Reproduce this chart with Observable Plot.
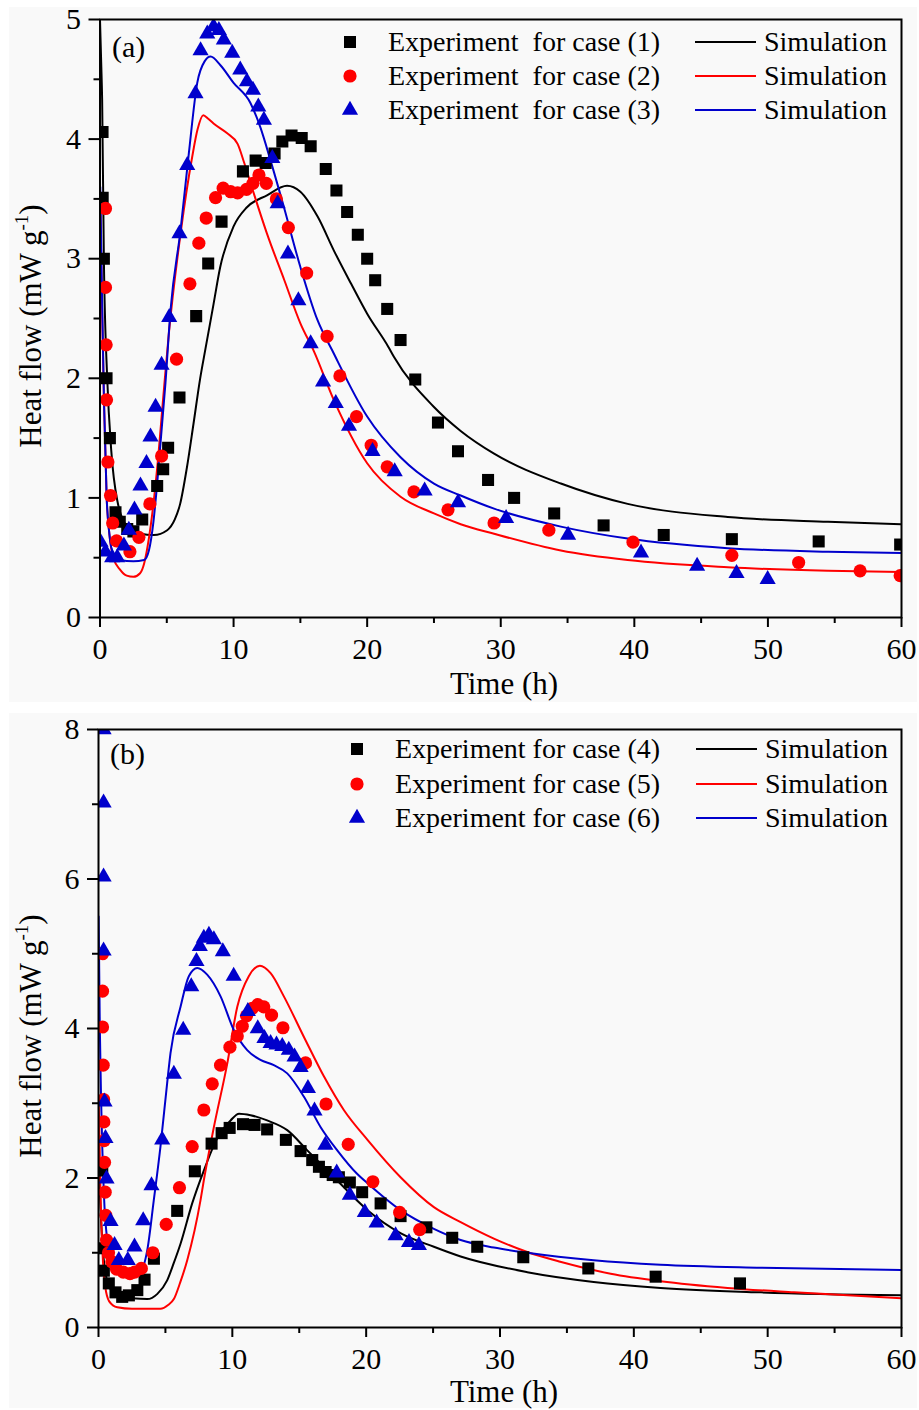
<!DOCTYPE html>
<html>
<head>
<meta charset="utf-8">
<script src="https://cdn.jsdelivr.net/npm/d3@7"></script>
<script src="https://cdn.jsdelivr.net/npm/@observablehq/plot@0.6"></script>
<style>
  html, body { margin: 0; padding: 0; background: #ffffff; }
  #wrap { position: relative; width: 919px; height: 1410px; overflow: hidden; }
  #wrap svg { position: absolute; }
</style>
</head>
<body>
<div id="wrap"></div>
<script>
// ---------- tick values ----------
const xTicks = [0, 10, 20, 30, 40, 50, 60];
const xMinor = [5, 15, 25, 35, 45, 55];
const yTicksA = [0, 1, 2, 3, 4, 5];
const yMinorA = [0.5, 1.5, 2.5, 3.5, 4.5];
const yTicksB = [0, 2, 4, 6, 8];
const yMinorB = [1, 3, 5, 7];

// ---------- labels ----------
const xTitle = "Time (h)";
const yTitleMain = "Heat flow (mW g";
const yTitleSup = "-1";
const legendA = ["Experiment  for case (1)", "Experiment  for case (2)", "Experiment  for case (3)"];
const legendB = ["Experiment for case (4)", "Experiment for case (5)", "Experiment for case (6)"];
const simLabel = "Simulation";

// ---------- panel (a) data: [time h, heat flow mW/g] ----------
const exp1 = [[0.19,4.06],[0.2,3.51],[0.29,3.0],[0.49,2.0],[0.74,1.5],[1.16,0.88],[1.48,0.80],[2.04,0.74],[2.5,0.72],[3.16,0.82],[4.28,1.10],[4.73,1.24],[5.1,1.42],[5.95,1.84],[7.2,2.52],[8.1,2.96],[9.1,3.31],[10.7,3.73],[11.65,3.82],[12.4,3.80],[13.07,3.88],[13.65,3.98],[14.34,4.03],[15.1,4.01],[15.77,3.94],[16.9,3.75],[17.7,3.57],[18.5,3.39],[19.3,3.2],[20.0,3.0],[20.6,2.82],[21.5,2.58],[22.5,2.32],[23.6,1.99],[25.3,1.63],[26.8,1.39],[29.05,1.15],[31.0,1.0],[34.0,0.87],[37.7,0.77],[42.2,0.69],[47.3,0.655],[53.8,0.636],[59.9,0.61]];
const exp2 = [[0.41,3.42],[0.41,2.76],[0.46,2.28],[0.49,1.82],[0.59,1.30],[0.79,1.02],[0.95,0.79],[1.24,0.64],[2.24,0.55],[2.91,0.67],[3.73,0.95],[4.61,1.35],[5.73,2.16],[6.73,2.79],[7.4,3.13],[7.95,3.34],[8.65,3.51],[9.22,3.59],[9.78,3.56],[10.3,3.55],[10.97,3.58],[11.45,3.63],[11.9,3.70],[12.45,3.63],[13.2,3.50],[14.1,3.26],[15.47,2.88],[17.0,2.35],[17.96,2.02],[19.2,1.68],[20.3,1.44],[21.5,1.26],[23.5,1.05],[26.05,0.90],[29.5,0.79],[33.6,0.73],[39.9,0.63],[47.3,0.52],[52.3,0.46],[56.9,0.39],[59.9,0.35]];
const exp3 = [[0.04,0.63],[0.41,0.55],[0.91,0.50],[1.29,0.50],[1.79,0.60],[2.16,0.73],[2.58,0.90],[3.03,1.10],[3.48,1.29],[3.78,1.51],[4.16,1.76],[4.61,2.11],[5.18,2.51],[5.95,3.21],[6.53,3.78],[7.15,4.38],[7.53,4.74],[8.03,4.88],[8.5,4.94],[8.9,4.91],[9.27,4.83],[9.9,4.72],[10.5,4.58],[11.0,4.48],[11.45,4.41],[11.85,4.27],[12.27,4.16],[12.9,3.84],[13.3,3.46],[14.07,3.04],[14.85,2.65],[15.77,2.29],[16.7,1.97],[17.65,1.79],[18.64,1.60],[20.4,1.39],[22.06,1.22],[24.3,1.06],[26.8,0.96],[30.4,0.83],[35.04,0.69],[40.5,0.54],[44.7,0.43],[47.65,0.37],[49.98,0.32]];
const sim1 = [[0,5.0],[0.1,4.6],[0.16,4.33],[0.29,3.0],[0.54,2.0],[0.84,1.4],[1.29,0.98],[2.04,0.76],[3.03,0.70],[4.03,0.69],[5.03,0.73],[5.6,0.82],[6.0,0.95],[6.5,1.25],[7.0,1.62],[7.5,2.0],[7.9,2.25],[8.5,2.62],[9.0,2.93],[10.0,3.27],[11.0,3.43],[12.5,3.53],[14.0,3.61],[15.0,3.56],[16.3,3.35],[17.5,3.07],[18.8,2.79],[20.0,2.54],[21.6,2.26],[22.0,2.18],[25.0,1.76],[27.0,1.56],[29.5,1.37],[34.5,1.12],[39.5,0.95],[47.0,0.84],[54.5,0.80],[60,0.78]];
const sim2 = [[0.03,3.4],[0.15,2.6],[0.3,1.8],[0.5,1.0],[0.7,0.7],[1.0,0.5],[1.5,0.4],[2.0,0.35],[2.5,0.34],[3.0,0.37],[3.3,0.45],[3.6,0.62],[4.0,0.95],[4.28,1.25],[4.78,1.9],[5.15,2.37],[6.03,3.21],[6.9,3.85],[7.3,4.08],[7.73,4.2],[8.1,4.17],[8.5,4.13],[9.5,4.05],[10.3,3.96],[10.8,3.80],[11.5,3.55],[12.5,3.21],[13.8,2.82],[15.0,2.46],[16.0,2.23],[17.5,1.82],[20.0,1.29],[22.5,1.01],[25.0,0.87],[27.0,0.78],[29.5,0.70],[34.5,0.56],[39.5,0.48],[47,0.42],[54.5,0.39],[60,0.38]];
const sim3 = [[0.02,3.6],[0.15,2.7],[0.3,1.8],[0.5,1.0],[0.7,0.7],[1.0,0.53],[1.5,0.48],[2.5,0.47],[3.3,0.48],[3.66,0.56],[4.0,0.8],[4.28,1.12],[4.9,1.96],[5.28,2.57],[6.03,3.24],[6.65,3.88],[7.28,4.47],[7.83,4.65],[8.28,4.69],[9.0,4.62],[10.0,4.47],[11.27,4.30],[12.0,4.10],[12.77,3.82],[13.77,3.43],[15.0,2.93],[16.27,2.49],[17.4,2.23],[20.0,1.68],[22.5,1.34],[25.0,1.12],[27.0,1.02],[29.5,0.91],[34.5,0.76],[39.5,0.66],[47,0.58],[54.5,0.55],[60,0.54]];

// ---------- panel (b) data ----------
const exp4 = [[0.28,2.10],[0.28,1.06],[0.4,0.76],[0.77,0.59],[1.27,0.47],[1.77,0.41],[2.27,0.43],[2.9,0.50],[3.44,0.64],[4.14,0.92],[5.88,1.56],[7.2,2.09],[8.45,2.46],[9.2,2.60],[9.8,2.67],[10.8,2.72],[11.66,2.71],[12.6,2.65],[14.0,2.51],[15.1,2.36],[15.97,2.24],[16.47,2.15],[16.97,2.08],[17.5,2.04],[17.96,2.01],[18.78,1.94],[19.7,1.81],[21.08,1.66],[22.57,1.49],[24.5,1.34],[26.43,1.20],[28.3,1.08],[31.74,0.94],[36.6,0.79],[41.63,0.68],[47.93,0.59]];
const exp5 = [[0.3,5.0],[0.3,4.5],[0.3,4.02],[0.35,3.51],[0.38,3.05],[0.4,2.75],[0.42,2.5],[0.45,2.21],[0.5,1.81],[0.55,1.5],[0.6,1.17],[0.75,1.0],[1.0,0.88],[1.35,0.78],[1.85,0.74],[2.35,0.72],[2.7,0.74],[3.2,0.79],[4.06,1.0],[5.06,1.38],[6.05,1.87],[7.0,2.42],[7.87,2.91],[8.5,3.26],[9.12,3.51],[9.82,3.75],[10.37,3.90],[10.74,4.03],[11.06,4.17],[11.49,4.27],[11.9,4.32],[12.35,4.29],[12.93,4.18],[13.78,4.01],[15.47,3.54],[17.0,2.99],[18.66,2.45],[20.5,1.95],[22.5,1.54],[24.0,1.31]];
const exp6 = [[0.38,8.0],[0.38,7.02],[0.38,6.03],[0.38,5.04],[0.45,3.02],[0.52,2.53],[0.6,1.99],[0.9,1.42],[1.2,1.10],[1.52,0.90],[2.19,0.90],[2.69,1.08],[3.34,1.43],[3.96,1.90],[4.76,2.51],[5.63,3.39],[6.33,3.98],[6.93,4.56],[7.32,4.90],[7.57,5.10],[7.87,5.21],[8.25,5.25],[8.62,5.19],[9.29,5.03],[10.1,4.70],[11.16,4.23],[11.9,4.0],[12.4,3.87],[12.86,3.80],[13.3,3.78],[13.73,3.76],[14.22,3.71],[14.65,3.62],[15.1,3.48],[15.65,3.2],[16.14,2.90],[16.95,2.44],[17.8,2.07],[18.78,1.77],[19.9,1.54],[20.78,1.40],[22.2,1.23],[23.2,1.14],[23.94,1.10]];
const sim4 = [[0.02,2.2],[0.15,1.6],[0.3,1.1],[0.5,0.75],[0.8,0.55],[1.2,0.44],[1.5,0.41],[2.5,0.39],[3.64,0.38],[4.4,0.45],[5.13,0.63],[5.6,0.85],[6.13,1.12],[7.0,1.66],[7.87,2.10],[8.87,2.53],[9.87,2.77],[10.5,2.86],[11.36,2.84],[12.6,2.77],[14.1,2.64],[15.6,2.37],[17.6,2.01],[20.1,1.57],[22.6,1.26],[25.06,1.08],[27.06,0.95],[32.04,0.74],[37.0,0.61],[42.0,0.53],[49.5,0.47],[60,0.43]];
const sim5 = [[0.02,3.0],[0.15,1.8],[0.3,1.0],[0.5,0.55],[0.8,0.35],[1.4,0.27],[2.5,0.25],[4.63,0.25],[5.2,0.3],[5.63,0.38],[6.1,0.6],[6.63,0.90],[7.62,1.70],[7.87,1.97],[8.62,2.68],[9.62,3.53],[10.37,4.29],[11.23,4.70],[12.06,4.84],[12.86,4.74],[13.85,4.43],[15.34,3.89],[16.84,3.36],[18.33,2.91],[20.1,2.51],[22.57,2.01],[25.06,1.61],[27.06,1.41],[29.54,1.19],[32.04,1.01],[34.5,0.88],[38.27,0.72],[42.0,0.62],[47.0,0.53],[51.97,0.47],[60,0.39]];
const sim6 = [[0.01,5.5],[0.1,4.0],[0.2,3.0],[0.4,1.8],[0.7,1.1],[1.0,0.85],[1.5,0.77],[2.5,0.75],[3.14,0.76],[3.64,1.03],[4.13,1.70],[4.63,2.42],[5.13,3.27],[5.38,3.67],[6.13,4.29],[6.75,4.70],[7.38,4.81],[8.12,4.72],[9.12,4.43],[10.11,3.98],[11.11,3.71],[12.1,3.58],[13.1,3.51],[14.1,3.40],[15.34,3.09],[16.6,2.68],[17.84,2.37],[19.3,2.06],[20.1,1.93],[22.57,1.57],[25.06,1.32],[27.06,1.17],[29.54,1.07],[32.04,1.0],[37.0,0.90],[42.0,0.84],[49.5,0.80],[60,0.77]];

// ---------- styling ----------
const BLACK = "#000000", RED = "#ff0000", BLUE = "#0000cc";
const FONT = "'Liberation Serif', 'Times New Roman', serif";
const symSpec = [
  {symbol: "square", r: 6.8, color: BLACK, d3sym: d3.symbolSquare},
  {symbol: "circle", r: 6.6, color: RED, d3sym: d3.symbolCircle},
  {symbol: "triangle", r: 6.0, color: BLUE, d3sym: d3.symbolTriangle}
];

const wrap = document.getElementById("wrap");

function panel(cfg) {
  const {left, top, width, height, margins, yDomain, yTicks, yMinor, exps, sims, legend, tag, legendLayout, titleY, tagPos, xTitleBaseline} = cfg;
  const X = d => d[0], Y = d => d[1];
  const fmt = d => String(d);
  const marks = [
    Plot.axisX({ticks: xMinor, tickSize: 6, text: null, label: null, strokeWidth: 2}),
    Plot.axisX({ticks: xTicks, tickSize: 10, tickPadding: 10, fontSize: 30, tickFormat: fmt, label: null, strokeWidth: 2}),
    Plot.axisY({ticks: yMinor, tickSize: 6, text: null, label: null, strokeWidth: 2}),
    Plot.axisY({ticks: yTicks, tickSize: 11, tickPadding: 8, fontSize: 30, tickFormat: fmt, label: null, strokeWidth: 2})
  ];
  sims.forEach((s, i) => marks.push(Plot.line(s, {x: X, y: Y, stroke: symSpec[i].color, strokeWidth: 2, curve: "monotone-x", clip: true})));
  exps.forEach((e, i) => marks.push(Plot.dot(e, {x: X, y: Y, symbol: symSpec[i].symbol, r: symSpec[i].r, fill: symSpec[i].color, stroke: "none", clip: true})));
  marks.push(Plot.frame({stroke: BLACK, strokeWidth: 2}));

  const svg = Plot.plot({
    width, height,
    marginLeft: margins[0], marginRight: margins[1], marginTop: margins[2], marginBottom: margins[3],
    x: {domain: [0, 60], label: null},
    y: {domain: yDomain, label: null},
    style: {background: "#f9f9f9", fontFamily: FONT, color: "black", overflow: "visible"},
    marks
  });
  svg.style.left = left + "px";
  svg.style.top = top + "px";
  wrap.appendChild(svg);

  const g = d3.select(svg).append("g").attr("font-family", FONT).attr("fill", "black").attr("text-anchor", "start");
  // x title
  g.append("text").attr("x", 504 - left).attr("y", xTitleBaseline - top)
    .attr("text-anchor", "middle").attr("font-size", 31).text(xTitle);
  // y title
  const yt = g.append("text")
    .attr("transform", `translate(${41 - left},${titleY - top}) rotate(-90)`)
    .attr("text-anchor", "middle").attr("font-size", 31);
  yt.append("tspan").text(yTitleMain);
  yt.append("tspan").attr("font-size", 19).attr("dy", -13).text(yTitleSup);
  yt.append("tspan").attr("dy", 13).text(")");
  // panel tag
  g.append("text").attr("x", tagPos[0] - left).attr("y", tagPos[1] - top)
    .attr("text-anchor", "start").attr("font-size", 30).text(tag);
  // legend
  const L = legendLayout;
  legend.forEach((lab, i) => {
    const cy = L.rows[i] - top;
    g.append("path")
      .attr("transform", `translate(${L.markX - left},${cy})`)
      .attr("d", d3.symbol(symSpec[i].d3sym, symSpec[i].r * symSpec[i].r * Math.PI)())
      .attr("fill", symSpec[i].color);
    g.append("text").attr("x", L.textX - left).attr("y", cy + 9)
      .attr("text-anchor", "start").attr("font-size", 28).style("white-space", "pre").text(lab);
    g.append("line").attr("x1", L.lineX0 - left).attr("x2", L.lineX1 - left)
      .attr("y1", cy).attr("y2", cy).attr("stroke", symSpec[i].color).attr("stroke-width", 2);
    g.append("text").attr("x", L.simX - left).attr("y", cy + 9)
      .attr("text-anchor", "start").attr("font-size", 28).text(simLabel);
  });
}

panel({
  left: 9, top: 7, width: 908, height: 695,
  margins: [90.5, 16, 12, 85],
  yDomain: [0, 5], yTicks: yTicksA, yMinor: yMinorA,
  exps: [exp1, exp2, exp3], sims: [sim1, sim2, sim3],
  legend: legendA, tag: "(a)", tagPos: [112, 57], titleY: 326, xTitleBaseline: 694,
  legendLayout: {rows: [42, 76, 110], markX: 350, textX: 388, lineX0: 695, lineX1: 756, simX: 764}
});

panel({
  left: 9, top: 713, width: 908, height: 695,
  margins: [89, 16, 16, 81],
  yDomain: [0, 8], yTicks: yTicksB, yMinor: yMinorB,
  exps: [exp4, exp5, exp6], sims: [sim4, sim5, sim6],
  legend: legendB, tag: "(b)", tagPos: [110, 764], titleY: 1036, xTitleBaseline: 1402,
  legendLayout: {rows: [749, 784, 818], markX: 357, textX: 395, lineX0: 696, lineX1: 757, simX: 765}
});
</script>
</body>
</html>
